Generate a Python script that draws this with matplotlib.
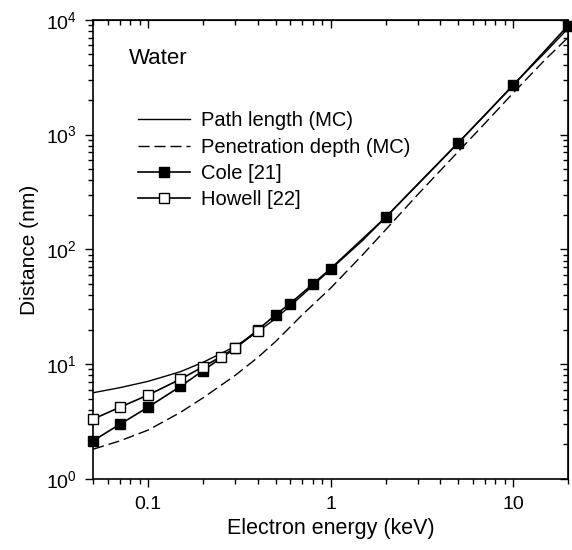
import numpy as np
import matplotlib
matplotlib.use("Agg")
import matplotlib.pyplot as plt
from matplotlib.ticker import LogLocator, LogFormatterMathtext, NullFormatter, FixedLocator, FixedFormatter

plt.rcParams['font.family'] = ['Liberation Sans', 'DejaVu Sans']
plt.rcParams['mathtext.fontset'] = 'custom'
plt.rcParams['mathtext.rm'] = 'Liberation Sans'
plt.rcParams['mathtext.it'] = 'Liberation Sans:italic'
plt.rcParams['mathtext.bf'] = 'Liberation Sans:bold'

# Monte Carlo curves (keV -> nm)
mc_energy = [0.05, 0.07, 0.1, 0.15, 0.2, 0.3, 0.4, 0.5, 0.7, 1, 1.5, 2, 3, 5, 7, 10, 15, 20]
path_length = [5.65, 6.25, 7.1, 8.6, 10.4, 14.3, 19.3, 25, 40, 67, 120, 190, 370, 850, 1480, 2700, 5200, 8400]
penetration = [1.82, 2.15, 2.67, 3.8, 5.1, 8.0, 11.5, 15.8, 27, 46, 90, 148, 300, 710, 1250, 2300, 4500, 7000]

# Cole [21]
cole_energy = [0.05, 0.07, 0.1, 0.15, 0.2, 0.3, 0.4, 0.5, 0.6, 0.8, 1, 2, 5, 10, 20]
cole_dist = [2.16, 3.0, 4.23, 6.4, 8.8, 13.8, 20, 27, 33.8, 50, 68, 190, 845, 2680, 8900]

# Howell [22]
howell_energy = [0.05, 0.07, 0.1, 0.15, 0.2, 0.25, 0.3, 0.4]
howell_dist = [3.33, 4.22, 5.4, 7.4, 9.5, 11.6, 13.9, 19.5]

fig = plt.figure(figsize=(5.72, 5.5), dpi=100)
ax = fig.add_axes([0.163, 0.129, 0.83, 0.835])

ax.plot(mc_energy, path_length, color='black', lw=1.0, label='Path length (MC)')
ax.plot(mc_energy, penetration, color='black', lw=1.0, ls=(0, (8, 3.5)), label='Penetration depth (MC)')
ax.plot(cole_energy, cole_dist, color='black', lw=1.2, marker='s', ms=6.5,
        mfc='black', mec='black', label='Cole [21]', clip_on=False, zorder=3)
ax.plot(howell_energy, howell_dist, color='black', lw=1.2, marker='s', ms=6.5,
        mfc='white', mec='black', mew=1.0, label='Howell [22]', clip_on=False, zorder=4)

ax.set_xscale('log')
ax.set_yscale('log')
ax.set_xlim(0.05, 20)
ax.set_ylim(1, 1e4)

ax.xaxis.set_major_locator(FixedLocator([0.1, 1, 10]))
ax.xaxis.set_major_formatter(FixedFormatter(['0.1', '1', '10']))
ax.xaxis.set_minor_locator(LogLocator(base=10, subs=np.arange(2, 10)))
ax.xaxis.set_minor_formatter(NullFormatter())
ax.yaxis.set_major_locator(LogLocator(base=10, numticks=10))
ax.yaxis.set_major_formatter(LogFormatterMathtext())
ax.yaxis.set_minor_locator(LogLocator(base=10, subs=np.arange(2, 10), numticks=10))
ax.yaxis.set_minor_formatter(NullFormatter())

ax.tick_params(which='major', direction='out', length=6, width=1.0, labelsize=14, pad=6)
ax.tick_params(which='minor', direction='out', length=3.5, width=1.0)
for s in ax.spines.values():
    s.set_linewidth(1.2)

# top and right ticks point inward
top = ax.secondary_xaxis('top')
top.xaxis.set_major_locator(FixedLocator([0.1, 1, 10]))
top.xaxis.set_minor_locator(LogLocator(base=10, subs=np.arange(2, 10)))
top.tick_params(which='major', direction='in', length=6, width=1.0, labeltop=False)
top.tick_params(which='minor', direction='in', length=3.5, width=1.0)
top.xaxis.set_minor_formatter(NullFormatter())
right = ax.secondary_yaxis('right')
right.yaxis.set_major_locator(LogLocator(base=10, numticks=10))
right.yaxis.set_minor_locator(LogLocator(base=10, subs=np.arange(2, 10), numticks=10))
right.tick_params(which='major', direction='in', length=6, width=1.0, labelright=False)
right.tick_params(which='minor', direction='in', length=3.5, width=1.0)
right.yaxis.set_minor_formatter(NullFormatter())

ax.set_xlabel('Electron energy (keV)', fontsize=15.5, labelpad=4)
ax.set_ylabel('Distance (nm)', fontsize=15, labelpad=5)

ax.text(0.075, 0.915, 'Water', transform=ax.transAxes, fontsize=16, va='center', ha='left')

ax.legend(loc='upper left', bbox_to_anchor=(0.078, 0.818), frameon=False, fontsize=14.5,
          handlelength=2.55, handletextpad=0.55, labelspacing=0.36, borderaxespad=0)

fig.savefig('out.png', dpi=100)
